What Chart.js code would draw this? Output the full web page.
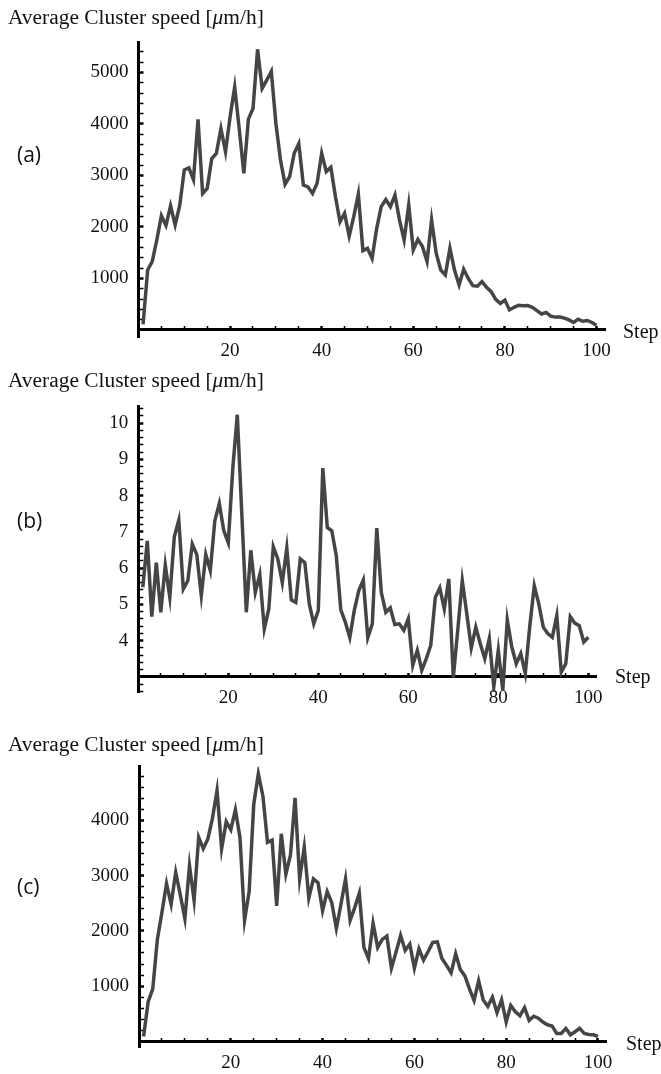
<!DOCTYPE html>
<html>
<head>
<meta charset="utf-8">
<script src="https://cdn.jsdelivr.net/npm/chart.js"></script>
<style>
  body { margin: 0; background: #fff; }
  #page { position: relative; width: 661px; height: 1074px; overflow: hidden; }
  canvas { position: absolute; left: 0; }
  .ylab { position: absolute; left: 8px; font-family: "Liberation Serif", serif; font-size: 20px; line-height: 20px; white-space: nowrap; transform: scaleX(1.07); transform-origin: 0 0; color: #111; }
  .step { position: absolute; font-family: "Liberation Serif", serif; font-size: 20px; line-height: 20px; color: #111; }
  .tag { position: absolute; left: 17px; font-family: "Open Sans", sans-serif; font-size: 21px; line-height: 22px; color: #111; }
</style>
</head>
<body>
<div id="page">
  <canvas id="chartA" width="661" height="370" style="top:0px"></canvas>
  <canvas id="chartB" width="661" height="340" style="top:380px"></canvas>
  <canvas id="chartC" width="661" height="334" style="top:740px"></canvas>

  <div class="ylab" style="top:7px">Average Cluster speed [<i>μ</i>m/h]</div>
  <div class="ylab" style="top:370px">Average Cluster speed [<i>μ</i>m/h]</div>
  <div class="ylab" style="top:734px">Average Cluster speed [<i>μ</i>m/h]</div>

  <div class="tag" style="top:143px">(a)</div>
  <div class="tag" style="top:509px">(b)</div>
  <div class="tag" style="top:875px">(c)</div>

  <div class="step" style="left:623px; top:321px">Step</div>
  <div class="step" style="left:615px; top:666px">Step</div>
  <div class="step" style="left:626px; top:1033px">Step</div>
</div>

<script>
// average cluster speed per step
var speedA = [
  110, 1165, 1330, 1750, 2220, 2030, 2410, 2040, 2420, 3110,
  3150, 2920, 4090, 2650, 2750, 3330, 3430, 3910, 3460, 4140,
  4720, 3900, 3040, 4095, 4300, 5450, 4690, 4850, 5020, 4010,
  3300, 2830, 2980, 3430, 3620, 2815, 2780, 2650, 2850, 3430,
  3075, 3160, 2590, 2100, 2265, 1825, 2200, 2640, 1540, 1585,
  1390, 1970, 2395, 2535, 2395, 2620, 2135, 1750, 2430, 1555,
  1760, 1620, 1330, 2135, 1490, 1165, 1070, 1585, 1165, 875,
  1180, 1000, 860, 850, 940, 830, 745, 595, 515, 580,
  390, 440, 480, 470, 475, 440, 375, 310, 340, 270,
  250, 250, 230, 195, 145, 210, 170, 185, 145, 90
]

var speedB = [
  5.47, 6.75, 4.66, 6.15, 4.78, 6.08, 5.19, 6.86, 7.32, 5.42,
  5.65, 6.66, 6.37, 5.24, 6.37, 5.93, 7.30, 7.78, 7.03, 6.70,
  8.76, 10.23, 7.50, 4.78, 6.49, 5.33, 5.82, 4.32, 4.87, 6.59,
  6.25, 5.60, 6.55, 5.12, 5.05, 6.25, 6.15, 5.01, 4.46, 4.83,
  8.76, 7.12, 7.03, 6.34, 4.85, 4.51, 4.08, 4.83, 5.38, 5.67,
  4.08, 4.46, 7.10, 5.33, 4.78, 4.90, 4.44, 4.46, 4.28, 4.60,
  3.32, 3.73, 3.18, 3.50, 3.87, 5.19, 5.45, 4.87, 5.70, 2.98,
  4.30, 5.65, 4.74, 3.80, 4.37, 3.91, 3.50, 4.05, 2.72, 3.73,
  2.63, 4.57, 3.82, 3.36, 3.64, 3.09, 4.40, 5.51, 5.01, 4.37,
  4.19, 4.09, 4.69, 3.13, 3.36, 4.66, 4.48, 4.41, 3.96, 4.09
]

var speedC = [
  90, 720, 950, 1845, 2335, 2855, 2480, 3055, 2650, 2220,
  3180, 2550, 3690, 3485, 3660, 4035, 4540, 3485, 3975, 3830,
  4190, 3690, 2190, 2710, 4290, 4840, 4435, 3600, 3640, 2450,
  3755, 3025, 3370, 4405, 2940, 3510, 2595, 2940, 2870, 2365,
  2710, 2510, 2045, 2480, 2940, 2190, 2420, 2680, 1700, 1500,
  2135, 1700, 1845, 1905, 1325, 1615, 1915, 1645, 1760, 1325,
  1675, 1470, 1625, 1790, 1800, 1500, 1375, 1240, 1585, 1300,
  1185, 950, 740, 1095, 750, 635, 800, 520, 750, 350,
  650, 535, 465, 610, 380, 455, 420, 350, 300, 280,
  145, 145, 235, 120, 175, 235, 145, 125, 120, 90
]

var steps = speedA.map(function (v, i) { return i + 1 })

var stepTicks = [20, 40, 60, 80, 100]

var tickFont = { family: 'Liberation Serif', size: 19 }

function isMajorY(v, major) {
    return Math.abs(v / major - Math.round(v / major)) < 1e-6
}

function speedChart(id, values, cfg) {
    var points = values.map(function (v, i) { return { x: steps[i], y: v } })
    return new Chart(document.getElementById(id), {
        type: 'line',
        data: {
            datasets: [{
                data: points,
                borderColor: '#454545',
                borderWidth: 3.5,
                pointRadius: 0,
                tension: 0,
                fill: false
            }]
        },
        options: {
            responsive: false,
            animation: false,
            layout: { padding: cfg.padding },
            plugins: { legend: { display: false }, tooltip: { enabled: false } },
            scales: {
                x: {
                    type: 'linear',
                    min: 0,
                    max: cfg.xMax,
                    position: { y: cfg.xAxisAt },
                    afterFit: function (s) { s.height = 0 },
                    border: { color: '#000', width: 3 },
                    grid: {
                        drawOnChartArea: false,
                        tickLength: -5,
                        tickColor: '#000',
                        tickWidth: function (c) { return c.tick && stepTicks.indexOf(c.tick.value) >= 0 ? 2.5 : 1.5 }
                    },
                    ticks: {
                        stepSize: 5,
                        includeBounds: false,
                        autoSkip: false,
                        maxRotation: 0,
                        padding: 15,
                        color: '#111',
                        font: tickFont,
                        callback: function (v) { return stepTicks.indexOf(v) >= 0 ? String(v) : '' }
                    }
                },
                y: {
                    type: 'linear',
                    min: cfg.yMin,
                    max: cfg.yMax,
                    position: 'left',
                    afterFit: function (s) { s.width = cfg.left },
                    border: { color: '#000', width: 3 },
                    grid: {
                        drawOnChartArea: false,
                        tickLength: -5,
                        tickColor: '#000',
                        tickWidth: function (c) { return c.tick && isMajorY(c.tick.value, cfg.major) ? 2.5 : 1.5 }
                    },
                    ticks: {
                        stepSize: cfg.minor,
                        includeBounds: false,
                        autoSkip: false,
                        padding: 15,
                        color: '#111',
                        font: tickFont,
                        callback: function (v) {
                            return v >= cfg.firstLabel && isMajorY(v, cfg.major) ? String(Math.round(v)) : ''
                        }
                    }
                }
            }
        }
    })
}

speedChart('chartA', speedA, {
    padding: { top: 42, bottom: 33, right: 56, left: 0 },
    left: 138.5, xMax: 101.86, xAxisAt: 0,
    yMin: -136, yMax: 5592, minor: 200, major: 1000, firstLabel: 1000
})

speedChart('chartB', speedB, {
    padding: { top: 25, bottom: 28, right: 64.3, left: 0 },
    left: 138.3, xMax: 101.87, xAxisAt: 3,
    yMin: 2.58, yMax: 10.46, minor: 0.2, major: 1, firstLabel: 4
})

speedChart('chartC', speedC, {
    padding: { top: 15, bottom: 24, right: 54.3, left: 0 },
    left: 139, xMax: 101.9, xAxisAt: 0,
    yMin: -112, yMax: 4974, minor: 200, major: 1000, firstLabel: 1000
})
</script>
</body>
</html>
